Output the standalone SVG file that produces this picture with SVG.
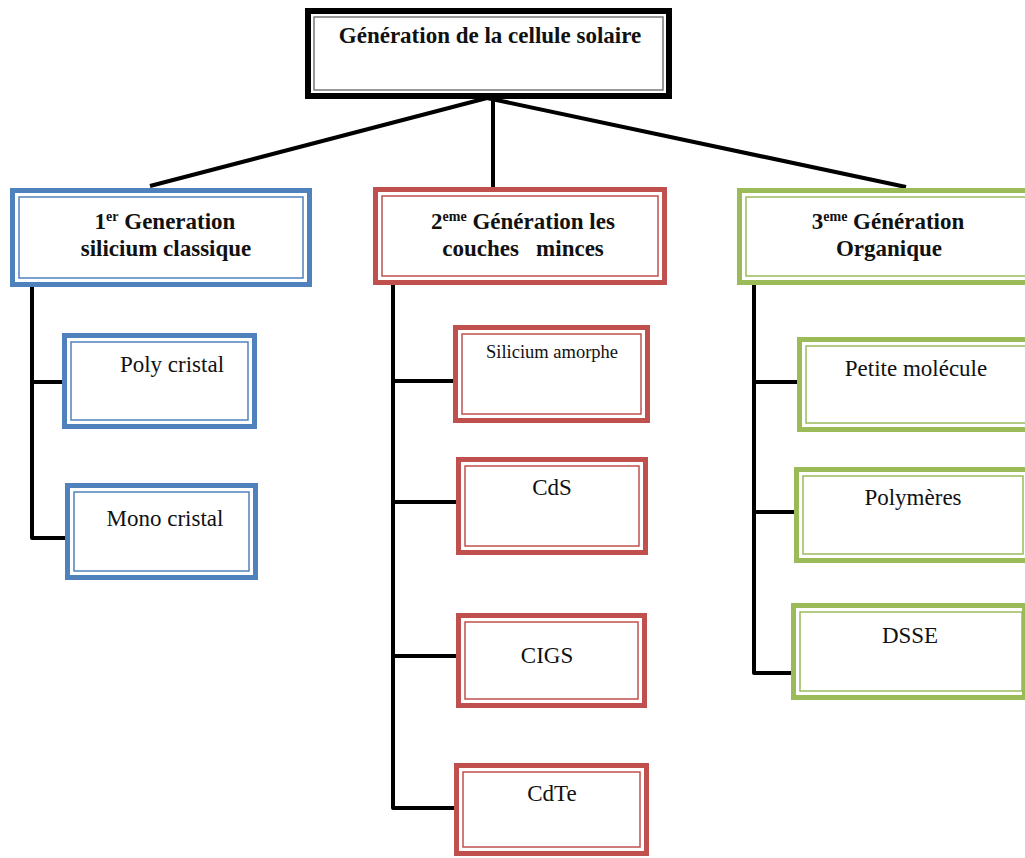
<svg xmlns="http://www.w3.org/2000/svg" width="1025" height="858" viewBox="0 0 1025 858">
<style>
.bg{fill:#fff}
.thick{fill:none;stroke-width:5}
.thin{fill:none;stroke-width:1.5}
.blue{stroke:#4F81BD}
.red{stroke:#C0504D}
.green{stroke:#9BBB59}
.black{stroke:#000}
.gray{stroke:#777}
.title{font-family:"Liberation Serif","Times New Roman",serif;font-weight:bold;font-size:23px;fill:#111;text-anchor:middle;white-space:pre}
.item{font-family:"Liberation Serif","Times New Roman",serif;font-size:23px;fill:#111;text-anchor:middle}
.small{font-size:18.5px}
.sup{font-size:14px}
.conn{stroke:#000;stroke-width:4;fill:none;stroke-linejoin:round}
</style>
<rect x="0" y="0" width="1025" height="858" class="bg"/>
<g id="connectors">
<path class="conn" d="M487,98 L150,186"/>
<path class="conn" d="M493,98 L493,187"/>
<path class="conn" d="M487,98 L906,187"/>
<path class="conn" d="M32,287 L32,538 L65,538"/>
<path class="conn" d="M32,382 L62,382"/>
<path class="conn" d="M393,285 L393,808 L454,808"/>
<path class="conn" d="M393,381 L453,381"/>
<path class="conn" d="M393,502 L456,502"/>
<path class="conn" d="M393,656 L456,656"/>
<path class="conn" d="M754,285 L754,673 L791,673"/>
<path class="conn" d="M754,382 L797,382"/>
<path class="conn" d="M754,512 L794,512"/>
</g>
<g id="root">
<rect x="305" y="8" width="367" height="91" fill="#fff"/>
<rect x="308" y="11" width="361" height="85" class="black" fill="none" stroke-width="6"/>
<rect x="314" y="17" width="349" height="73" class="thin gray"/>
<text x="490" y="43" class="title">Génération de la cellule solaire</text>
</g>
<g id="gen1">
<rect x="12.5" y="190.5" width="297" height="94" class="thick blue" fill="#fff"/>
<rect x="19" y="197" width="284" height="81" class="thin blue"/>
<text x="165" y="229" class="title">1<tspan class="sup" dy="-8">er</tspan><tspan dy="8"> Generation</tspan></text>
<text x="166" y="256" class="title">silicium classique</text>
</g>
<g id="gen2">
<rect x="375.5" y="189.5" width="289" height="93" class="thick red" fill="#fff"/>
<rect x="382" y="196" width="276" height="80" class="thin red"/>
<text x="523" y="229" class="title">2<tspan class="sup" dy="-8">eme</tspan><tspan dy="8"> Génération les</tspan></text>
<text x="523" y="256" class="title">couches   minces</text>
</g>
<g id="gen3">
<rect x="739.5" y="190.5" width="300" height="92" class="thick green" fill="#fff"/>
<rect x="746" y="197" width="290" height="79" class="thin green"/>
<text x="888" y="229" class="title">3<tspan class="sup" dy="-8">eme</tspan><tspan dy="8"> Génération</tspan></text>
<text x="889" y="256" class="title">Organique</text>
</g>
<g id="poly">
<rect x="64.5" y="335.5" width="190" height="91" class="thick blue" fill="#fff"/>
<rect x="71" y="342" width="177" height="78" class="thin blue"/>
<text x="172" y="372" class="item">Poly cristal</text>
</g>
<g id="mono">
<rect x="67.5" y="485.5" width="188" height="92" class="thick blue" fill="#fff"/>
<rect x="74" y="492" width="175" height="79" class="thin blue"/>
<text x="165" y="526" class="item">Mono cristal</text>
</g>
<g id="silicium">
<rect x="455.5" y="327.5" width="192" height="93" class="thick red" fill="#fff"/>
<rect x="462" y="334" width="179" height="80" class="thin red"/>
<text x="552" y="358" class="item small">Silicium amorphe</text>
</g>
<g id="cds">
<rect x="458.5" y="459.5" width="187" height="93" class="thick red" fill="#fff"/>
<rect x="465" y="466" width="174" height="80" class="thin red"/>
<text x="552" y="495" class="item">CdS</text>
</g>
<g id="cigs">
<rect x="458.5" y="615.5" width="186" height="90" class="thick red" fill="#fff"/>
<rect x="465" y="622" width="173" height="77" class="thin red"/>
<text x="547" y="663" class="item">CIGS</text>
</g>
<g id="cdte">
<rect x="456.5" y="765.5" width="190" height="88" class="thick red" fill="#fff"/>
<rect x="463" y="772" width="177" height="75" class="thin red"/>
<text x="552" y="801" class="item">CdTe</text>
</g>
<g id="petite">
<rect x="799.5" y="339.5" width="240" height="90" class="thick green" fill="#fff"/>
<rect x="806" y="346" width="230" height="77" class="thin green"/>
<text x="916" y="376" class="item">Petite molécule</text>
</g>
<g id="polymeres">
<rect x="796.5" y="469.5" width="231" height="91" class="thick green" fill="#fff"/>
<rect x="803" y="476" width="220" height="78" class="thin green"/>
<text x="913" y="505" class="item">Polymères</text>
</g>
<g id="dsse">
<rect x="793.5" y="605.5" width="231" height="92" class="thick green" fill="#fff"/>
<rect x="800" y="612" width="222" height="79" class="thin green"/>
<text x="910" y="643" class="item">DSSE</text>
</g>
</svg>
